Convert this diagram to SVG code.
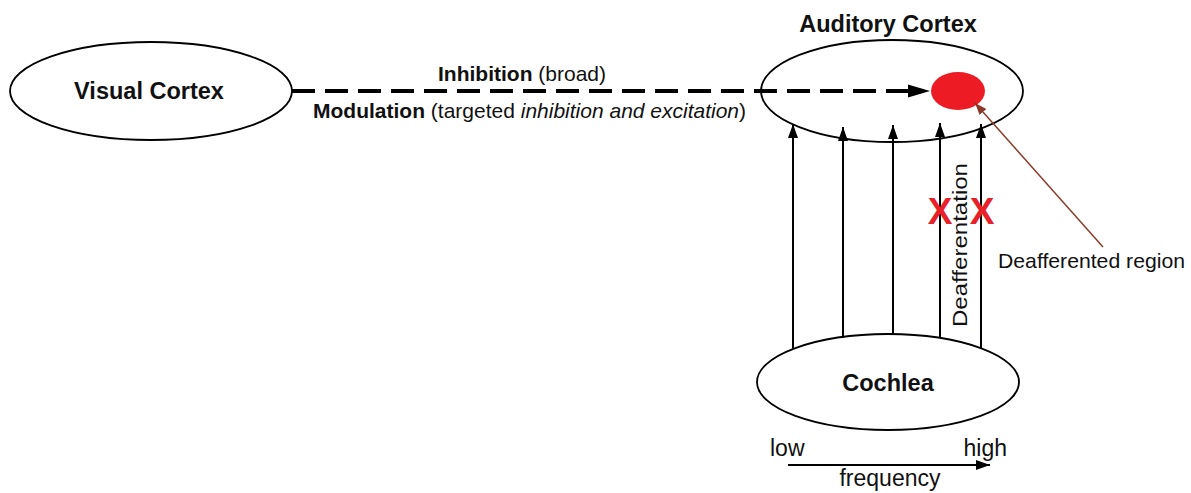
<svg xmlns="http://www.w3.org/2000/svg" width="1191" height="493" viewBox="0 0 1191 493">
<style>
.node{fill:#fff;stroke:#000;stroke-width:1.8}
.title{font-family:"Liberation Sans",Arial,sans-serif;font-weight:bold;font-size:23.5px;fill:#111;text-anchor:middle}
.lbl{font-family:"Liberation Sans",Arial,sans-serif;font-size:21px;fill:#111}
.big{font-family:"Liberation Sans",Arial,sans-serif;font-size:23px;fill:#111}
.conn{stroke:#000;stroke-width:2;fill:none}
.x{font-family:"Liberation Sans",Arial,sans-serif;font-weight:bold;font-size:37px;fill:#e8202a;text-anchor:middle}
</style>
<defs>
<marker id="ah" markerWidth="14" markerHeight="10" refX="14" refY="5" orient="auto" markerUnits="userSpaceOnUse"><path d="M0,0 L14,5 L0,10 Z" fill="#000"/></marker>
<marker id="ahb" markerWidth="12" markerHeight="9" refX="12" refY="4.5" orient="auto" markerUnits="userSpaceOnUse"><path d="M0,0 L12,4.5 L0,9 Z" fill="#8b3a2a"/></marker>
</defs>
<rect width="1191" height="493" fill="#fff"/>
<g id="visual-cortex">
<ellipse class="node" cx="151" cy="91" rx="141" ry="49"/>
<text class="title" x="149" y="99">Visual Cortex</text>
</g>
<g id="auditory-cortex">
<ellipse class="node" cx="892" cy="91" rx="131" ry="51"/>
<text class="title" x="888" y="32">Auditory Cortex</text>
</g>
<g id="deafferented-spot">
<ellipse cx="958" cy="91" rx="27" ry="19" fill="#ed1c24"/>
</g>
<g id="cochlea">
<ellipse class="node" cx="888" cy="382" rx="131" ry="48"/>
<text class="title" x="888" y="391">Cochlea</text>
</g>
<g id="connectors">
<line x1="292" y1="91" x2="910" y2="91" stroke="#000" stroke-width="4" stroke-dasharray="23,10"/>
<path d="M908,84.5 L930,91 L908,97.5 Z" fill="#000"/>
<line class="conn" x1="793" y1="349" x2="793" y2="124" marker-end="url(#ah)"/>
<line class="conn" x1="843" y1="338" x2="843" y2="127" marker-end="url(#ah)"/>
<line class="conn" x1="893" y1="334" x2="893" y2="125" marker-end="url(#ah)"/>
<line class="conn" x1="940" y1="338" x2="940" y2="123" marker-end="url(#ah)"/>
<line class="conn" x1="981" y1="348" x2="981" y2="124" marker-end="url(#ah)"/>
<line x1="1103" y1="247" x2="975" y2="103" stroke="#8b3a2a" stroke-width="1.5" marker-end="url(#ahb)"/>
<line class="conn" x1="788" y1="465" x2="990" y2="465" marker-end="url(#ah)"/>
</g>
<g id="labels">
<text class="lbl" x="522" y="81" text-anchor="middle"><tspan font-weight="bold">Inhibition</tspan> (broad)</text>
<text class="lbl" x="313" y="118"><tspan font-weight="bold">Modulation</tspan> (targeted <tspan font-style="italic">inhibition and excitation</tspan>)</text>
<text class="lbl" x="967" y="327" font-size="22" textLength="164" lengthAdjust="spacingAndGlyphs" transform="rotate(-90 967 327)">Deafferentation</text>
<text class="x" x="940" y="224">X</text>
<text class="x" x="982" y="224">X</text>
<text class="lbl" x="998" y="268" font-size="23" textLength="187" lengthAdjust="spacingAndGlyphs">Deafferented region</text>
<text class="big" x="770" y="456">low</text>
<text class="big" x="1007" y="456" text-anchor="end">high</text>
<text class="big" x="890" y="486" text-anchor="middle">frequency</text>
</g>
</svg>
